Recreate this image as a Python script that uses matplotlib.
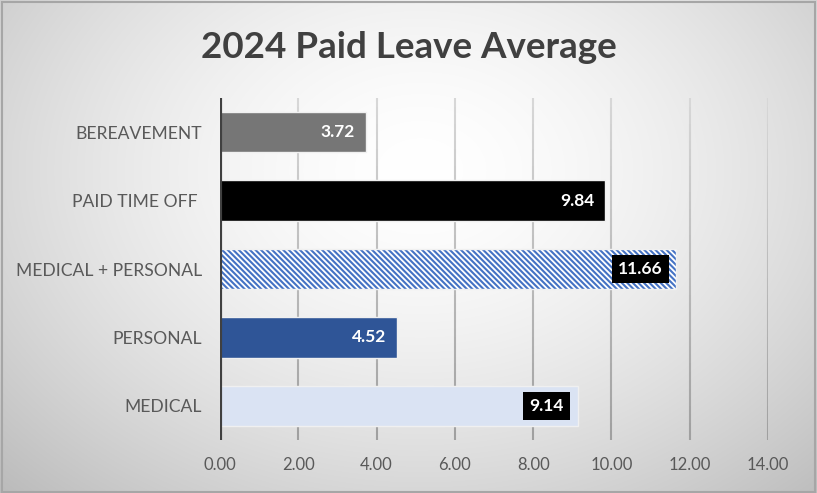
import numpy as np
import matplotlib
matplotlib.use("Agg")
import matplotlib.pyplot as plt
from matplotlib.collections import LineCollection
from matplotlib.patches import Rectangle
import matplotlib.colors as mcolors

# ---- data ----
categories = ["MEDICAL", "PERSONAL", "MEDICAL + PERSONAL", "PAID TIME OFF ", "BEREAVEMENT"]
values = [9.14, 4.52, 11.66, 9.84, 3.72]
value_labels = ["9.14", "4.52", "11.66", "9.84", "3.72"]
x_ticks = [0, 2, 4, 6, 8, 10, 12, 14]
x_tick_labels = ["0.00", "2.00", "4.00", "6.00", "8.00", "10.00", "12.00", "14.00"]
title = "2024 Paid Leave Average"

face_colors = ["#DAE3F3", "#2F5597", "#FFFFFF", "#000000", "#767676"]
hatches = [None, None, "\\\\\\\\\\\\", None, None]
boxed = [True, False, True, False, False]

FONT = "Lato"
plt.rcParams["font.family"] = [FONT, "DejaVu Sans"]
plt.rcParams["hatch.linewidth"] = 1.5

W, H = 817, 493
fig = plt.figure(figsize=(W / 100, H / 100), dpi=100)

# background radial gradient
bg = fig.add_axes([0, 0, 1, 1], zorder=-10)
yy, xx = np.mgrid[0:H, 0:W]
d = np.sqrt(((xx - 420) / 560.0) ** 2 + ((yy - 170) / 420.0) ** 2)
g = 1.0 - 0.24 * np.clip(d, 0, 1.3) ** 1.6
img = np.dstack([g, g, g])
bg.imshow(img, extent=[0, 1, 0, 1], aspect="auto", origin="upper")
bg.set_axis_off()

ax = fig.add_axes([220 / W, 1 - 440 / H, 548 / W, 342 / H])
ax.set_facecolor("none")
ypos = np.arange(len(categories))
for i in range(len(categories)):
    ax.barh(ypos[i], values[i], height=0.59,
            color=face_colors[i],
            edgecolor="#4472C4" if hatches[i] else "#F0F0F0",
            hatch=hatches[i], linewidth=0 if hatches[i] else 1.0, zorder=3)
    if hatches[i]:
        ax.barh(ypos[i], values[i], height=0.59, color="none",
                edgecolor="#F0F0F0", linewidth=1.0, zorder=3.5)
    if boxed[i]:
        ax.annotate(value_labels[i], (values[i], ypos[i]), xytext=(-10, 0),
                    textcoords="offset points", ha="right", va="center",
                    color="white", fontweight="bold", fontsize=12.5, zorder=5,
                    bbox=dict(boxstyle="square,pad=0.35", fc="black", ec="none"))
    else:
        ax.annotate(value_labels[i], (values[i], ypos[i]), xytext=(-8, 0),
                    textcoords="offset points", ha="right", va="center",
                    color="white", fontweight="bold", fontsize=12.5, zorder=5)

ax.set_xlim(0, 14)
ax.set_ylim(-0.5, len(categories) - 0.5)
ax.set_xticks(x_ticks)
ax.set_xticklabels(x_tick_labels)
ax.set_yticks(ypos)
ax.set_yticklabels(categories)
ax.tick_params(axis="both", length=0, colors="#595959", labelsize=12)
ax.tick_params(axis="y", pad=13, labelsize=12.6)
ax.tick_params(axis="x", pad=12)
for s in ax.spines.values():
    s.set_visible(False)

# gradient gridlines
n = 40
ys = np.linspace(-0.5, len(categories) - 0.5, n + 1)
top_c = np.array(mcolors.to_rgb("#D8D8D8"))
bot_c = np.array(mcolors.to_rgb("#A0A0A0"))
for xt in ax.get_xticks()[1:]:
    segs = [[(xt, ys[k]), (xt, ys[k + 1])] for k in range(n)]
    t = (ys[:-1] - ys[0]) / (ys[-1] - ys[0])
    cols = [tuple(bot_c + (top_c - bot_c) * tt) for tt in t]
    ax.add_collection(LineCollection(segs, colors=cols, linewidths=1.5, zorder=1))
ax.axvline(0, color="#404040", linewidth=3, zorder=4)

fig.text(0.5, 1 - 48 / H, title, ha="center", va="center", fontsize=26.5,
         fontweight="bold", color="#404040")

fig.patches.append(Rectangle((0.002, 0.002), 0.996, 0.994, transform=fig.transFigure,
                             fill=False, edgecolor="#A6A6A6", linewidth=1.5))

fig.savefig("out.png", dpi=100)
